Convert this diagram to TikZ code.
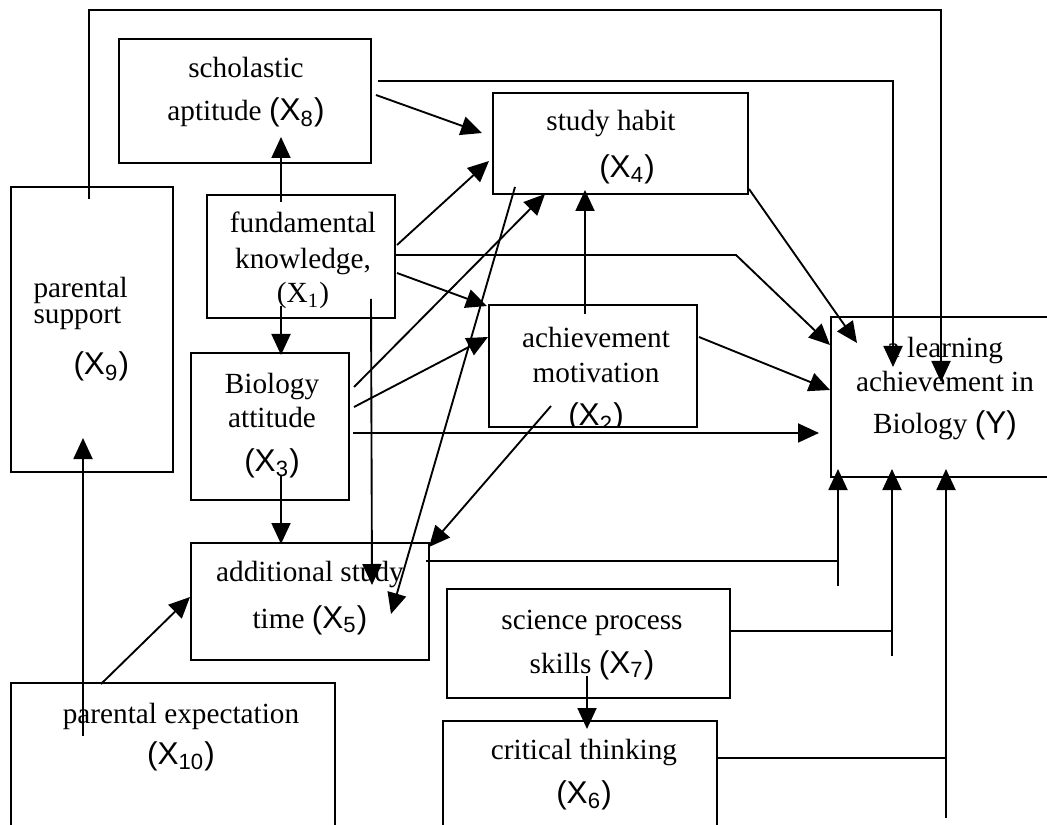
\documentclass[tikz,border=0pt]{standalone}
\usepackage{fontspec}
\setmainfont{Liberation Serif}
\setsansfont{Liberation Sans}
\usepackage{tikz}
\usetikzlibrary{arrows.meta,calc,fit}
\newcommand{\xs}[1]{{\fontsize{12.6}{13.6}\selectfont\sffamily(X\textsubscript{#1})}}
\tikzset{
  varbox/.style={draw,line width=0.8pt,inner sep=0pt},
  lbl/.style={inner sep=0pt,align=center,anchor=base,font=\fontsize{11.7}{13.6}\selectfont},
  link/.style={line width=0.75pt},
  arr/.style={link,-{Triangle[length=8.4pt,width=7.6pt]}},
}

\begin{document}
\begin{tikzpicture}[x=0.4pt,y=-0.4pt]
  \useasboundingbox (0,0) rectangle (1047,825);
  \clip (0,0) rectangle (1047,825);
  % --- variables ---
  \node[varbox,fit={(119,39) (371,163)}](x8){};
  \node[varbox,fit={(493,93) (748,194)}](x4){};
  \node[varbox,fit={(11,187) (173,472)}](x9){};
  \node[varbox,fit={(207,195) (395,318)}](x1){};
  \node[varbox,fit={(191,353) (349,500)}](x3){};
  \node[varbox,fit={(489,305) (697,427)}](x2){};
  \node[varbox,fit={(831,317) (1059,477)}](y){};
  \node[varbox,fit={(191,543) (429,660)}](x5){};
  \node[varbox,fit={(11,683) (335,860)}](x10){};
  \node[varbox,fit={(447,589) (730,698)}](x7){};
  \node[varbox,fit={(443,721) (717,860)}](x6){};
  % --- texts (anchored at the last baseline) ---
  \node[lbl](x8t) at (246,121){scholastic\\[3.6pt]aptitude \xs{8}};
  \node[lbl,align=left,anchor=base west](x9t) at (33,375){parental\\[-3.2pt]support\\[6.8pt]\hspace*{16pt}\xs{9}};
  \node[lbl](x1t) at (303,303){fundamental\\[0.8pt]knowledge,\\(X\textsubscript{1})};
  \node[lbl](x3t) at (272,471){Biology\\attitude\\[4pt]\xs{3}};
  \node[lbl](x4t) at (611,178){study habit\\[5.2pt]\hspace*{12.8pt}\xs{4}};
  \begin{scope}
    \clip (x2.north west) rectangle (x2.south east);
    \node[lbl](x2t) at (596,426){achievement\\[0.4pt]motivation\\[3.6pt]\xs{2}};
  \end{scope}
  \node[lbl](yt) at (945,434){a learning\\achievement in\\[3.2pt]Biology {\fontsize{12.6}{13.6}\selectfont\sffamily(Y)}};
  \node[lbl](x5t) at (310,628){additional study\\[5.2pt]time \xs{5}};
  \node[lbl](x10t) at (181,764){parental expectation\\[2.8pt]\xs{10}};
  \node[lbl](x7t) at (592,673){science process\\[4pt]skills \xs{7}};
  \node[lbl](x6t) at (584,803){critical thinking\\[4pt]\xs{6}};
  % --- paths ---
  \draw[arr]($(x9.north)+(-3,13)$) -- ++(0,-189) -| ($(y.north)+(-4,66)$);
  \draw[arr]($(x8.east)+(6,-20)$) -| ($(y.north)+(-52,51)$);
  \draw[arr]($(x8.east)+(4,-6)$) -- ($(x4.west)+(-10,-10.5)$);
  \draw[arr]($(x1.north)+(-20,8)$) -- ($(x8.south)+(36,-27)$);
  \draw[arr]($(x1.east)+(1,-11.5)$) -- ($(x4.south west)+(-3,-34)$);
  \draw[arr]($(x1.east)+(0,-1.5)$) -- ++(340,0) -- ($(y.west)+(0,-52)$);
  \draw[arr]($(x4.south east)+(0,-6)$) -- ($(y.north west)+(27,27)$);
  \draw[arr]($(x1.east)+(1,16.5)$) -- ($(x2.north west)+(-1,2)$);
  \draw[arr]($(x2.north)+(-8,10)$) -- ($(x4.south)+(-35.5,-5)$);
  \draw[arr]($(x2.east)+(1,-29)$) -- ($(y.west)+(0,-7)$);
  \draw[arr]($(x3.east)+(3,6.5)$) -- ($(y.west)+(-11,36)$);
  \draw[arr]($(x1.south)+(-20,-13)$) -- ($(x3.north)+(11,3)$);
  \draw[arr]($(x3.south)+(11,-25)$) -- ($(x5.north)+(-29,2)$);
  \draw[arr]($(x1.south)+(70,-20)$) -- ($(x5.east)+(-58,-16.5)$);
  \draw[arr]($(x3.east)+(4,-39.5)$) -- ($(x4.south)+(-75.5,-1)$);
  \draw[arr]($(x3.east)+(4,-19.5)$) -- ($(x2.west)+(0,-29)$);
  \draw[arr]($(x4.south)+(-105.5,-8)$) -- ($(x5.east)+(-39,12.5)$);
  \draw[arr]($(x2.south)+(-42,-22)$) -- ($(x5.north east)+(-1,5)$);
  \draw[arr]($(x10.north)+(-72,2)$) -- ($(x5.west)+(0,-4.5)$);
  \draw[arr]($(x10.north)+(-90,54)$) -- ($(x9.south)+(-9,-35)$);
  \draw[arr]($(x7.south)+(-1.5,-23)$) -- ($(x6.north)+(7,9)$);
  % --- bus lines into Y from below ---
  \coordinate (inA) at ($(y.south west)+(8,-9)$);
  \coordinate (inB) at ($(y.south west)+(62,-9)$);
  \coordinate (inC) at ($(y.south west)+(116,-9)$);
  \draw[link]($(x5.east)+(-4,-40.5)$) -| ($(inA)+(0,117)$);
  \draw[arr]($(inA)+(0,117)$) -- (inA);
  \draw[link]($(x7.east)+(0,-12.5)$) -| ($(inB)+(0,187)$);
  \draw[arr]($(inB)+(0,187)$) -- (inB);
  \draw[link]($(x6.north east)+(0,38)$) -| ($(inC)+(0,349)$);
  \draw[arr]($(inC)+(0,349)$) -- (inC);
\end{tikzpicture}
\end{document}
